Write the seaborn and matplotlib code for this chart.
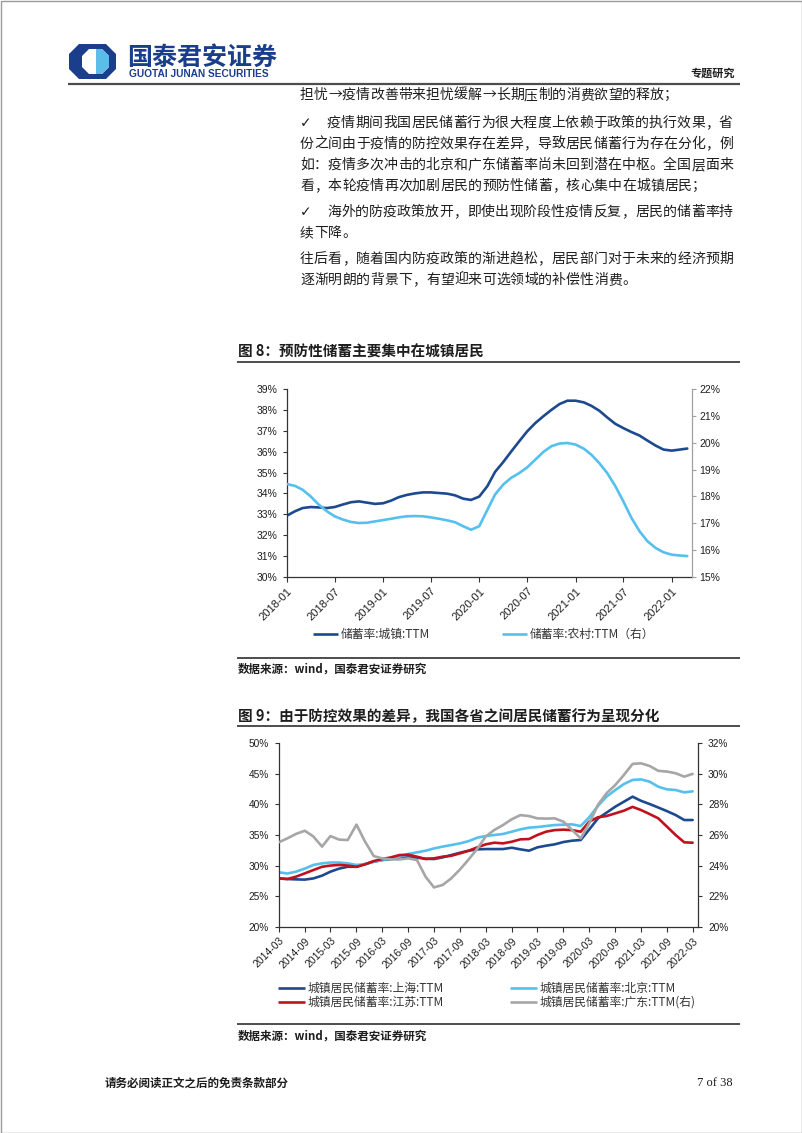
import numpy as np
import pandas as pd
import matplotlib
matplotlib.use('Agg')
import matplotlib.pyplot as plt
import seaborn as sns
from matplotlib.patches import Polygon, Rectangle

# ---------------- data ----------------
# Figure 8: monthly, from 2018-01
c1_start = '2018-01-01'
c1_urban = [32.94, 33.15, 33.30, 33.35, 33.33, 33.30, 33.35, 33.47, 33.58, 33.62,
            33.56, 33.50, 33.53, 33.66, 33.82, 33.93, 34.00, 34.05, 34.05, 34.02,
            33.99, 33.91, 33.75, 33.69, 33.85, 34.35, 35.03, 35.50, 36.00, 36.50,
            36.97, 37.37, 37.70, 38.00, 38.28, 38.44, 38.44, 38.36, 38.20, 37.96,
            37.64, 37.33, 37.13, 36.94, 36.77, 36.53, 36.29, 36.10, 36.05, 36.10,
            36.15]
c1_rural = [18.46, 18.39, 18.25, 18.00, 17.70, 17.45, 17.26, 17.14, 17.05, 17.01,
            17.02, 17.07, 17.12, 17.17, 17.22, 17.26, 17.27, 17.26, 17.22, 17.17,
            17.11, 17.04, 16.89, 16.76, 16.89, 17.50, 18.07, 18.44, 18.69, 18.87,
            19.08, 19.37, 19.66, 19.87, 19.97, 19.99, 19.93, 19.78, 19.56, 19.24,
            18.87, 18.38, 17.82, 17.20, 16.70, 16.33, 16.08, 15.92, 15.83, 15.80,
            15.78]
c1_xticks = ['2018-01', '2018-07', '2019-01', '2019-07', '2020-01',
             '2020-07', '2021-01', '2021-07', '2022-01']
c1_left_ticks = [30, 31, 32, 33, 34, 35, 36, 37, 38, 39]
c1_right_ticks = [15, 16, 17, 18, 19, 20, 21, 22]
c1_names = ['储蓄率:城镇:TTM', '储蓄率:农村:TTM（右）']

# Figure 9: every two months, from 2014-03
c2_start = '2014-03-01'
c2_shanghai = [27.90, 27.80, 27.74, 27.70, 27.90, 28.35, 29.00, 29.50, 29.80, 29.80,
               30.25, 30.63, 30.90, 31.07, 31.23, 31.34, 31.30, 31.12, 31.07, 31.34,
               31.72, 32.10, 32.43, 32.65, 32.70, 32.70, 32.70, 32.92, 32.65, 32.43,
               32.98, 33.25, 33.47, 33.85, 34.07, 34.18, 35.90, 37.70, 38.65, 39.63,
               40.45, 41.27, 40.60, 40.07, 39.50, 38.90, 38.27, 37.45, 37.45]
c2_beijing = [28.90, 28.70, 29.00, 29.50, 30.10, 30.36, 30.50, 30.50, 30.36, 30.10,
              30.25, 30.63, 30.90, 31.18, 31.45, 31.90, 32.16, 32.43, 32.80, 33.10,
              33.36, 33.63, 34.00, 34.56, 34.83, 35.00, 35.16, 35.54, 35.92, 36.20,
              36.30, 36.47, 36.63, 36.69, 36.74, 36.47, 37.90, 39.74, 41.27, 42.36,
              43.34, 44.00, 44.10, 43.73, 42.90, 42.47, 42.36, 41.98, 42.14]
c2_jiangsu = [27.90, 27.80, 28.18, 28.72, 29.27, 29.80, 30.00, 30.10, 30.00, 29.80,
              30.20, 30.74, 31.07, 31.34, 31.72, 31.78, 31.45, 31.07, 31.18, 31.45,
              31.60, 32.00, 32.43, 32.98, 33.47, 33.74, 33.63, 33.90, 34.29, 34.34,
              35.00, 35.54, 35.80, 35.87, 35.80, 35.54, 37.18, 37.90, 38.10, 38.54,
              38.98, 39.60, 39.09, 38.43, 37.73, 36.36, 35.00, 33.80, 33.74]
c2_guangdong = [25.52, 25.78, 26.07, 26.28, 25.90, 25.24, 25.93, 25.70, 25.67, 26.68,
                25.56, 24.62, 24.47, 24.40, 24.40, 24.47, 24.36, 23.27, 22.57, 22.73,
                23.16, 23.75, 24.40, 25.10, 25.90, 26.33, 26.65, 27.03, 27.30, 27.24,
                27.09, 27.07, 27.09, 26.87, 26.33, 25.78, 26.76, 27.96, 28.73, 29.27,
                29.93, 30.65, 30.69, 30.52, 30.20, 30.15, 30.04, 29.82, 30.00]
c2_xticks = ['2014-03', '2014-09', '2015-03', '2015-09', '2016-03', '2016-09',
             '2017-03', '2017-09', '2018-03', '2018-09', '2019-03', '2019-09',
             '2020-03', '2020-09', '2021-03', '2021-09', '2022-03']
c2_left_ticks = [20, 25, 30, 35, 40, 45, 50]
c2_right_ticks = [20, 22, 24, 26, 28, 30, 32]
c2_names = ['城镇居民储蓄率:上海:TTM', '城镇居民储蓄率:北京:TTM',
            '城镇居民储蓄率:江苏:TTM', '城镇居民储蓄率:广东:TTM(右)']

# ---------------- style ----------------
sns.set_theme(style='ticks')
plt.rcParams['font.family'] = ['Liberation Sans', 'Noto Sans CJK SC', 'DejaVu Sans']
CJK = ['Noto Sans CJK SC', 'DejaVu Sans']

NAVY = '#1d4a8f'
SKY = '#55c0ee'
RED = '#c0111f'
GREY = '#a6a6a6'
TXT = '#1e1e1e'

W, H = 802, 1133
fig = plt.figure(figsize=(W / 100, H / 100), dpi=100)
fig.patch.set_facecolor('white')

bg = fig.add_axes([0, 0, 1, 1])
bg.set_xlim(0, W)
bg.set_ylim(H, 0)
bg.axis('off')

# page border
bg.add_patch(Rectangle((0.5, 0.5), W - 1, H - 1, fill=False, ec='#9a9a9a', lw=1))

# ---------------- header ----------------
x0, x1, y0, y1, c = 69, 116, 44, 79, 10
bg.add_patch(Polygon([(x0 + c, y0), (x1 - c, y0), (x1, y0 + c), (x1, y1 - c),
                      (x1 - c, y1), (x0 + c, y1), (x0, y1 - c), (x0, y0 + c)],
                     closed=True, fc='#1a3d8c', ec='none'))
ix0, ix1, iy0, iy1, ic = 82, 109, 49, 74, 7
bg.add_patch(Polygon([(ix0 + ic, iy0), (ix1 - ic, iy0), (ix1, iy0 + ic), (ix1, iy1 - ic),
                      (ix1 - ic, iy1), (ix0 + ic, iy1), (ix0, iy1 - ic), (ix0, iy0 + ic)],
                     closed=True, fc='white', ec='none'))
bg.add_patch(Polygon([(96, iy0), (ix1 - ic, iy0), (ix1, iy0 + ic), (ix1, iy1 - ic),
                      (ix1 - ic, iy1), (96, iy1)], closed=True, fc='#5bbde8', ec='none'))
bg.text(127, 58, '国泰君安证券', fontsize=18, fontweight='bold', family=CJK,
        color='#1a3d8c', ha='left', va='center')
bg.text(129, 74, 'GUOTAI JUNAN SECURITIES', fontsize=7.3, fontweight='bold',
        family=['Liberation Sans'], color='#1a3d8c', ha='left', va='center')
bg.text(735, 73, '专题研究', fontsize=8, fontweight='bold', family=CJK,
        color=TXT, ha='right', va='center')
bg.plot([68, 740], [84, 84], color='#4d4d4d', lw=1.6, solid_capstyle='butt')

# ---------------- body text ----------------
PITCH = 14.0
RIGHT = 733


def body_line(text, y, start=300, justify=False, check=False):
    if check:
        bg.text(300, y, '✓', fontsize=10, family=['DejaVu Sans'], color=TXT,
                ha='left', va='center')
    n = len(text)
    pitch = (RIGHT - start) / n if justify else PITCH
    for i, ch in enumerate(text):
        bg.text(start + i * pitch, y, ch, fontsize=10, family=CJK, color=TXT,
                ha='left', va='center')


body_line('担忧→疫情改善带来担忧缓解→长期压制的消费欲望的释放；', 95)
body_line('疫情期间我国居民储蓄行为很大程度上依赖于政策的执行效果，省', 123, start=327,
          justify=True, check=True)
body_line('份之间由于疫情的防控效果存在差异，导致居民储蓄行为存在分化，例', 144, justify=True)
body_line('如：疫情多次冲击的北京和广东储蓄率尚未回到潜在中枢。全国层面来', 165, justify=True)
body_line('看，本轮疫情再次加剧居民的预防性储蓄，核心集中在城镇居民；', 186)
body_line('海外的防疫政策放开，即使出现阶段性疫情反复，居民的储蓄率持', 212, start=327,
          justify=True, check=True)
body_line('续下降。', 233)
body_line('往后看，随着国内防疫政策的渐进趋松，居民部门对于未来的经济预期', 259, justify=True)
body_line('逐渐明朗的背景下，有望迎来可选领域的补偿性消费。', 280)


def section(title, ty, line1, src_line, src_y):
    bg.text(238, ty, title, fontsize=10.5, fontweight='bold', family=CJK,
            color=TXT, ha='left', va='center')
    bg.plot([237, 740], [line1, line1], color='#4d4d4d', lw=1.4, solid_capstyle='butt')
    bg.plot([237, 740], [src_line, src_line], color='#4d4d4d', lw=1.4, solid_capstyle='butt')
    bg.text(238, src_y, '数据来源：wind，国泰君安证券研究', fontsize=8.3, fontweight='bold',
            family=CJK, color=TXT, ha='left', va='center')


section('图 8：预防性储蓄主要集中在城镇居民', 352, 362, 658, 669)
section('图 9：由于防控效果的差异，我国各省之间居民储蓄行为呈现分化', 716, 726, 1024, 1036)


def legend_item(xl0, xl1, y, color, label):
    bg.plot([xl0, xl1], [y, y], color=color, lw=1.9, solid_capstyle='butt')
    bg.text(xl1 + 3, y, label, fontsize=8.5, family=CJK, color='#333333',
            ha='left', va='center')


def style_axes(ax, ax2, right_color):
    for s in ['top', 'right']:
        ax.spines[s].set_visible(False)
    for s in ['top', 'left', 'bottom']:
        ax2.spines[s].set_visible(False)
    ax.spines['left'].set_color('#333333')
    ax.spines['bottom'].set_color('#333333')
    ax.spines['left'].set_linewidth(0.9)
    ax.spines['bottom'].set_linewidth(0.9)
    ax2.spines['right'].set_color(right_color)
    ax2.spines['right'].set_linewidth(0.9)
    ax.set_facecolor('none')
    ax2.set_facecolor('none')
    ax.grid(False)
    ax2.grid(False)
    ax.set_xlabel('')
    ax.set_ylabel('')
    ax2.set_ylabel('')


def px_axes(l, r, t, b):
    return fig.add_axes([l / W, 1 - b / H, (r - l) / W, (b - t) / H])


# ---------------- Figure 8 ----------------
d1 = pd.date_range(c1_start, periods=len(c1_urban), freq='MS')
ax = px_axes(287, 692, 389, 577)
ax2 = ax.twinx()
sns.lineplot(x=d1, y=c1_urban, ax=ax, color=NAVY, lw=1.9, legend=False)
sns.lineplot(x=d1, y=c1_rural, ax=ax2, color=SKY, lw=1.9, legend=False)
ax.set_xlim(pd.Timestamp('2018-01-01'), pd.Timestamp('2022-03-19'))
ax.set_ylim(30, 39)
ax2.set_ylim(15, 22)
ax.set_yticks(c1_left_ticks)
ax.set_yticklabels([f'{v}%' for v in c1_left_ticks])
ax2.set_yticks(c1_right_ticks)
ax2.set_yticklabels([f'{v}%' for v in c1_right_ticks])
ax.set_xticks(pd.to_datetime(c1_xticks))
ax.set_xticklabels(c1_xticks, rotation=45, ha='right', rotation_mode='anchor')
ax.tick_params(axis='y', direction='out', length=3, width=0.8, color='#333333',
               labelsize=7.5, labelcolor=TXT, pad=4)
ax.tick_params(axis='x', direction='out', length=3.5, width=0.8, color='#333333',
               labelsize=8, labelcolor=TXT, pad=3)
ax2.tick_params(axis='y', direction='out', length=3, width=0.8, color='#a0a0a0',
                labelsize=7.5, labelcolor=TXT, pad=2)
style_axes(ax, ax2, '#a0a0a0')

legend_item(313, 338, 634, NAVY, c1_names[0])
legend_item(502, 527, 634, SKY, c1_names[1])

# ---------------- Figure 9 ----------------
d2 = pd.date_range(c2_start, periods=len(c2_shanghai), freq='2MS')
bx = px_axes(278.7, 698.3, 743.3, 926.7)
bx2 = bx.twinx()
sns.lineplot(x=d2, y=c2_shanghai, ax=bx, color=NAVY, lw=1.9, legend=False)
sns.lineplot(x=d2, y=c2_beijing, ax=bx, color=SKY, lw=1.9, legend=False)
sns.lineplot(x=d2, y=c2_jiangsu, ax=bx, color=RED, lw=1.9, legend=False)
sns.lineplot(x=d2, y=c2_guangdong, ax=bx2, color=GREY, lw=1.9, legend=False)
bx.set_xlim(pd.Timestamp('2014-03-01'), pd.Timestamp('2022-04-10'))
bx.set_ylim(20, 50)
bx2.set_ylim(20, 32)
bx.set_yticks(c2_left_ticks)
bx.set_yticklabels([f'{v}%' for v in c2_left_ticks])
bx2.set_yticks(c2_right_ticks)
bx2.set_yticklabels([f'{v}%' for v in c2_right_ticks])
bx.set_xticks(pd.to_datetime(c2_xticks))
bx.set_xticklabels(c2_xticks, rotation=45, ha='right', rotation_mode='anchor')
bx.tick_params(axis='y', direction='out', length=3, width=0.8, color='#333333',
               labelsize=7.3, labelcolor=TXT, pad=4)
bx.tick_params(axis='x', direction='out', length=3.5, width=0.8, color='#333333',
               labelsize=7.5, labelcolor=TXT, pad=3)
bx2.tick_params(axis='y', direction='out', length=3, width=0.8, color='#333333',
                labelsize=7.3, labelcolor=TXT, pad=4)
style_axes(bx, bx2, '#333333')

legend_item(278, 305, 988, NAVY, c2_names[0])
legend_item(510, 537, 988, SKY, c2_names[1])
legend_item(278, 305, 1002, RED, c2_names[2])
legend_item(510, 537, 1002, GREY, c2_names[3])

# ---------------- footer ----------------
bg.text(105, 1083, '请务必阅读正文之后的免责条款部分', fontsize=8.3, fontweight='bold',
        family=CJK, color=TXT, ha='left', va='center')
bg.text(733, 1083, '7 of 38', fontsize=9, family=['Liberation Serif'], color=TXT,
        ha='right', va='center')

fig.savefig('out.png', dpi=100, facecolor='white')
